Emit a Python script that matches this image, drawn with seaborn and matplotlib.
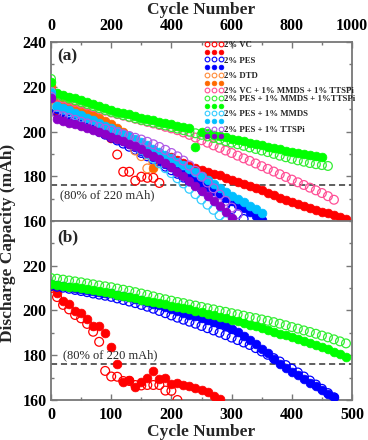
import numpy as np
import pandas as pd
import matplotlib
matplotlib.use("Agg")
import matplotlib.pyplot as plt
from matplotlib.lines import Line2D
from matplotlib.ticker import MultipleLocator
import seaborn as sns

# --- DATA: panel (a), one point every 20 cycles ---
a_vc_open = [215.5, 208.5, 207.5, 206.5, 205.5, 204.5, 203.5, 202.0, 200.5, 199.0, 197.0,
             189.7, 182.0, 182.0, 178.0, 179.8, 179.3, 179.3, 177.0]
a_vc_filled = [215.5, 209.0, 207.8, 206.8, 205.8, 204.9, 204.0, 203.0, 202.0, 200.8,
               199.6, 198.4, 197.2, 196.0, 194.8, 193.6, 192.4, 191.2, 190.0, 189.2,
               188.5, 187.2, 185.9, 184.7, 183.6, 182.6, 181.7, 181.1, 180.4, 179.4,
               178.4, 177.4, 176.5, 175.6, 174.7, 173.7, 172.6, 171.5, 170.5, 169.6,
               168.7, 167.8, 166.9, 165.9, 165.0, 164.2, 163.4, 162.6, 161.8, 161.0]
a_pes_open = [216.0, 209.0, 207.7, 206.4, 205.1, 203.8, 202.5, 201.2, 199.9, 198.6,
              197.3, 196.0, 194.6, 193.2, 191.8, 190.4, 188.9, 187.4, 185.9, 184.3,
              182.7, 181.1, 179.4, 177.7, 176.0, 174.3, 172.6, 170.8, 169.0, 167.2,
              165.2, 163.1, 160.9]
a_pes_filled = [216.5, 210.0, 208.7, 207.4, 206.1, 204.8, 203.5, 202.2, 200.9, 199.6,
                198.3, 197.0, 195.7, 194.3, 192.9, 191.5, 190.0, 188.5, 187.0, 185.5,
                184.0, 182.5, 181.0, 179.5, 178.0, 176.5, 175.0, 173.5, 172.0, 170.4,
                168.8, 167.2, 165.6, 163.9, 162.2, 160.5]
a_dtd_open = [219.5, 212.5, 211.5, 210.5, 209.5, 208.5, 207.3, 206.2, 205.0, 203.7,
              202.3, 200.8, 199.0, 195.5, 191.5, 189.0, 183.5, 186.5]
a_dtd_filled = [220.5, 213.5, 212.5, 211.5, 210.5, 209.4, 208.3, 207.2, 205.9, 204.6,
                203.2, 201.7, 200.0, 198.2, 196.2, 193.5, 190.0, 183.8]
a_vc_mt_open = [218.0, 215.5, 214.8, 214.0, 213.2, 212.5, 211.7, 210.9, 210.1, 209.3,
                208.5, 207.8, 207.1, 206.4, 205.7, 205.0, 204.3, 203.6, 202.9, 202.1,
                201.4, 200.6, 199.6, 198.5, 197.3, 196.1, 195.0, 193.8, 192.7, 191.5,
                190.4, 189.2, 188.0, 186.9, 185.7, 184.5, 183.3, 182.1, 180.9, 179.7,
                178.5, 177.3, 176.1, 174.9, 173.7, 172.5, 171.1, 169.5]
a_pes_mt_open = [223.5, 216.5, 215.6, 214.8, 214.0, 213.2, 212.3, 211.4, 210.5, 209.6,
                 208.8, 208.0, 207.3, 206.6, 205.9, 205.2, 204.6, 204.0, 203.3, 202.7,
                 202.0, 201.3, 200.6, 199.9, 199.2, 198.5, 197.8, 197.1, 196.4, 195.7,
                 195.0, 194.3, 193.6, 192.9, 192.2, 191.5, 190.8, 190.0, 189.2, 188.5,
                 187.8, 187.1, 186.5, 185.9, 185.4, 185.0, 184.6]
a_pes_mt_filled = [222.0, 217.2, 216.4, 215.6, 214.8, 214.0, 213.1, 212.2, 211.3, 210.4,
                   209.5, 208.8, 208.2, 207.6, 206.9, 206.2, 205.6, 205.0, 204.4, 203.8,
                   203.2, 202.6, 202.0, 201.5, 193.0, 200.0, 199.3, 198.6, 198.0, 197.4,
                   196.8, 196.2, 195.6, 195.0, 194.4, 193.8, 193.2, 192.6, 192.0, 191.5,
                   191.0, 190.5, 190.0, 189.6, 189.2, 188.8]
a_pes_m_open = [217.5, 211.0, 209.8, 208.6, 207.4, 206.2, 205.0, 203.8, 202.5, 201.2,
                199.8, 198.4, 196.9, 195.3, 193.6, 191.8, 189.9, 187.9, 185.8, 183.6,
                181.4, 179.1, 176.8, 174.4, 172.0, 169.6, 167.3, 165.0, 162.5, 160.0]
a_pes_m_filled = [217.0, 211.5, 210.5, 209.4, 208.4, 207.3, 206.2, 205.0, 203.8, 202.6,
                  201.4, 200.2, 199.0, 197.8, 196.5, 195.2, 193.8, 192.4, 191.0, 189.5,
                  188.0, 186.5, 184.9, 183.3, 181.7, 180.0, 178.3, 176.6, 174.8, 173.0,
                  171.2, 169.8, 168.4, 166.9, 165.3, 163.6]
a_pes_t_open = [215.5, 207.5, 206.8, 206.0, 205.2, 204.4, 203.6, 202.8, 202.0, 201.2,
                200.4, 199.6, 198.8, 198.0, 197.2, 196.4, 195.4, 194.3, 193.1, 191.8,
                190.4, 188.9, 187.0, 184.8, 182.4, 179.8, 177.2, 174.6, 171.8, 169.0,
                166.0, 163.0]
a_pes_t_filled = [214.8, 205.5, 204.8, 204.0, 203.2, 202.4, 201.5, 200.6, 199.7, 198.7,
                  197.7, 196.7, 195.6, 194.5, 193.3, 192.0, 190.6, 189.1, 187.5, 185.8,
                  184.0, 182.1, 180.1, 178.0, 175.8, 173.6, 171.3, 169.0, 166.6, 164.0,
                  161.2]

# --- DATA: panel (b), one point every 10 cycles ---
b_vc_open = [210.0, 206.0, 202.5, 200.5, 198.0, 196.5, 194.0, 190.5, 186.0, 173.0,
             170.5, 170.4, 168.5, 168.5, 166.7, 166.5, 166.7, 166.7, 166.7, 164.2,
             164.1, 160.0]
b_vc_filled = [211.0, 208.0, 204.4, 202.7, 199.6, 198.7, 196.0, 192.9, 192.9, 189.8,
               183.7, 175.9, 168.0, 168.9, 165.9, 167.9, 169.9, 173.0, 169.6, 169.9,
               167.0, 167.4, 166.7, 166.4, 165.5, 164.4, 163.5, 162.0, 160.5]
b_pes_open = [211.0, 210.6, 210.2, 209.7, 209.2, 208.7, 208.2, 207.6, 207.1, 206.6,
              206.1, 205.4, 204.7, 204.0, 203.3, 202.5, 201.7, 200.8, 199.8, 198.8,
              197.8, 196.8, 195.9, 195.0, 194.1, 193.1, 192.1, 191.1, 190.1, 189.0,
              187.9, 186.8, 185.7, 184.6, 183.2, 181.7, 180.2, 178.7, 177.2, 175.6,
              174.0, 172.3, 170.5, 168.7, 166.9, 165.0, 163.1, 161.2]
b_pes_filled = [212.0, 211.6, 211.0, 210.5, 210.0, 209.6, 209.2, 208.8, 208.4, 208.0,
                207.6, 207.0, 206.5, 205.9, 205.3, 204.5, 203.8, 203.1, 202.3, 201.4,
                200.5, 199.6, 198.9, 198.2, 197.5, 196.7, 195.9, 195.0, 194.0, 192.9,
                191.7, 190.2, 188.6, 186.9, 185.0, 183.0, 180.8, 178.4, 176.0, 174.3,
                172.7, 171.1, 169.5, 167.8, 166.1, 164.4, 162.8, 161.2]
b_pes_mt_open = [214.5, 214.2, 213.8, 213.4, 213.0, 212.6, 212.1, 211.7, 211.2, 210.8,
                 210.4, 209.8, 209.3, 208.8, 208.2, 207.6, 207.0, 206.3, 205.6, 205.0,
                 204.4, 203.8, 203.3, 202.7, 202.2, 201.6, 201.0, 200.5, 199.9, 199.4,
                 198.8, 198.3, 197.7, 197.1, 196.6, 196.0, 195.4, 194.8, 194.1, 193.4,
                 192.6, 191.9, 191.1, 190.4, 189.6, 188.8, 188.0, 187.1, 186.2, 185.3]
b_pes_mt_filled = [211.8, 211.5, 211.1, 210.7, 210.3, 209.9, 209.5, 209.0, 208.6, 208.1,
                   207.7, 207.1, 206.6, 206.0, 205.5, 204.9, 204.4, 203.8, 203.3, 202.8,
                   202.2, 201.7, 201.1, 200.5, 199.9, 199.3, 198.6, 198.0, 197.3, 196.6,
                   195.9, 195.2, 194.4, 193.7, 192.9, 192.1, 191.3, 190.5, 189.7, 188.9,
                   188.0, 187.2, 186.3, 185.5, 184.6, 183.7, 182.8, 181.6, 180.4, 179.3]

labels = ["2% VC", "2% PES", "2% DTD", "2% VC + 1% MMDS + 1% TTSPi",
          "2% PES + 1% MMDS + 1%TTSPi", "2% PES + 1% MMDS", "2% PES + 1% TTSPi"]

# colours
RED = "#ff0000"
BLUE = "#0000ff"
ORANGE = "#ff6a00"
ORANGE_O = "#ff8c3a"
PINK = "#ff4f96"
GREEN = "#00ff00"
GREEN_O = "#33ee33"
CYAN = "#00bfff"
CYAN_O = "#33ccff"
PURPLE = "#8c00c8"
PURPLE_O = "#b05ae6"

sns.set_style("ticks")
plt.rcParams["font.family"] = ["Liberation Serif", "DejaVu Serif"]
plt.rcParams["font.weight"] = "bold"

MS = 40


def draw(ax, step, vals, color, filled):
    df = pd.DataFrame({"cycle": np.arange(len(vals)) * step, "cap": vals})
    if filled:
        sns.scatterplot(data=df, x="cycle", y="cap", ax=ax, color=color, edgecolor=color,
                        s=MS, linewidth=0.5, zorder=3, legend=False)
    else:
        sns.scatterplot(data=df, x="cycle", y="cap", ax=ax, facecolor="none",
                        edgecolor=color, s=MS, linewidth=0.9, zorder=3, legend=False)


fig = plt.figure(figsize=(3.68, 4.40), dpi=100)
ax1 = fig.add_axes([51 / 368, 1 - 221 / 440, 301 / 368, 179 / 440])
ax2 = fig.add_axes([51 / 368, 1 - 400 / 440, 301 / 368, 179 / 440])

# panel (a)
series_a = [
    (a_vc_open, RED, False), (a_vc_filled, RED, True),
    (a_pes_open, BLUE, False), (a_pes_filled, BLUE, True),
    (a_dtd_open, ORANGE_O, False), (a_dtd_filled, ORANGE, True),
    (a_vc_mt_open, PINK, False),
    (a_pes_mt_open, GREEN_O, False), (a_pes_mt_filled, GREEN, True),
    (a_pes_m_open, CYAN_O, False), (a_pes_m_filled, CYAN, True),
    (a_pes_t_open, PURPLE_O, False), (a_pes_t_filled, PURPLE, True),
]
for vals, c, f in series_a:
    draw(ax1, 20, vals, c, f)

# panel (b)
series_b = [
    (b_vc_open, RED, False), (b_vc_filled, RED, True),
    (b_pes_open, BLUE, False), (b_pes_filled, BLUE, True),
    (b_pes_mt_open, GREEN_O, False), (b_pes_mt_filled, GREEN, True),
]
for vals, c, f in series_b:
    draw(ax2, 10, vals, c, f)

for ax in (ax1, ax2):
    ax.axhline(176, color="#333333", ls="--", lw=1.1, dashes=(4, 2.5), zorder=2)
    ax.set_ylim(160, 240)
    ax.yaxis.set_major_locator(MultipleLocator(20))
    ax.yaxis.set_minor_locator(MultipleLocator(10))
    ax.set_xlabel("")
    ax.set_ylabel("")
    for sp in ax.spines.values():
        sp.set_visible(True)
        sp.set_color("#777777")
        sp.set_linewidth(1.3)
    ax.tick_params(which="both", direction="in", colors="#777777", labelcolor="black",
                   labelsize=11.5, right=True, width=1)
    ax.tick_params(which="major", length=4)
    ax.tick_params(which="minor", length=2.5)
    for t in ax.get_yticklabels():
        t.set_fontweight("bold")

ax1.set_xlim(0, 1000)
ax1.xaxis.tick_top()
ax1.xaxis.set_label_position("top")
ax1.xaxis.set_major_locator(MultipleLocator(200))
ax1.xaxis.set_minor_locator(MultipleLocator(100))
ax1.tick_params(axis="x", which="both", top=True, bottom=False, pad=6)
ax1.tick_params(axis="y", pad=3)
ax1.set_xlabel("Cycle Number", fontsize=12.5, fontweight="bold", labelpad=3)

ax2.set_xlim(0, 500)
ax2.xaxis.set_major_locator(MultipleLocator(100))
ax2.xaxis.set_minor_locator(MultipleLocator(50))
ax2.tick_params(axis="x", which="both", top=False, bottom=True, pad=5)
ax2.tick_params(axis="y", pad=3)
ax2.set_yticks([160, 180, 200, 220])
ax2.set_xlabel("Cycle Number", fontsize=12.5, fontweight="bold", labelpad=1)

fig.text(0.022, 0.448, "Discharge Capacity (mAh)", rotation=90, fontsize=12.5,
         fontweight="bold", ha="center", va="center")

ax1.text(0.02, 0.965, "(a)", transform=ax1.transAxes, fontsize=12.5, fontweight="bold",
         va="top", ha="left")
ax2.text(0.02, 0.955, "(b)", transform=ax2.transAxes, fontsize=12.5, fontweight="bold",
         va="top", ha="left")
ax1.text(30, 171.5, "(80% of 220 mAh)", fontsize=9, fontweight="normal", va="center")
ax2.text(20, 179.8, "(80% of 220 mAh)", fontsize=9, fontweight="normal", va="center")

# legend: open marker with label, filled marker on the next row without label
leg_rows = [
    (RED, RED, False, labels[0]), (RED, RED, True, ""),
    (BLUE, BLUE, False, labels[1]), (BLUE, BLUE, True, ""),
    (ORANGE_O, ORANGE, False, labels[2]), (ORANGE_O, ORANGE, True, ""),
    (PINK, PINK, False, labels[3]),
    (GREEN_O, GREEN, False, labels[4]), (GREEN_O, GREEN, True, ""),
    (CYAN_O, CYAN, False, labels[5]), (CYAN_O, CYAN, True, ""),
    (PURPLE_O, PURPLE, False, labels[6]), (PURPLE_O, PURPLE, True, ""),
]
handles = []
texts = []
for co, cf, filled, lab in leg_rows:
    if filled:
        h = Line2D([], [], ls="none", marker="o", markersize=3.4, markerfacecolor=cf,
                   markeredgecolor=cf, markeredgewidth=0.5)
    else:
        h = Line2D([], [], ls="none", marker="o", markersize=3.4, markerfacecolor="none",
                   markeredgecolor=co, markeredgewidth=0.8)
    handles.append(h)
    texts.append(lab)
ax1.legend(handles, texts, loc="upper left", bbox_to_anchor=(0.5, 1.02), numpoints=3,
           frameon=False, prop={"family": "Liberation Serif", "weight": "bold", "size": 6.3},
           handlelength=2.2, handletextpad=0.1, labelspacing=-0.05, borderpad=0.2,
           borderaxespad=0.1)

fig.savefig("out.png", dpi=100)
